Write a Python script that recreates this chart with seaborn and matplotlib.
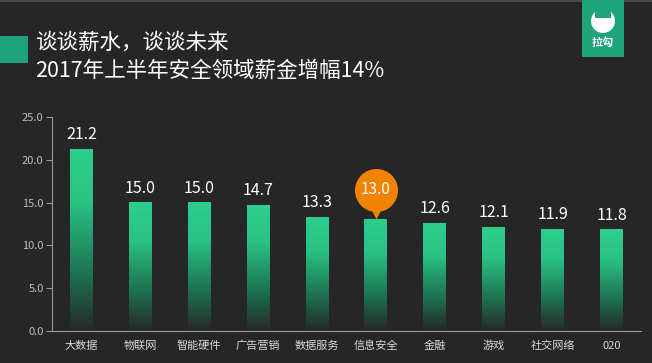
import numpy as np
import pandas as pd
import seaborn as sns
import matplotlib.pyplot as plt
from matplotlib.colors import LinearSegmentedColormap
from matplotlib.patches import Rectangle, Circle

CATEGORIES = ["大数据", "物联网", "智能硬件", "广告营销", "数据服务",
              "信息安全", "金融", "游戏", "社交网络", "020"]
VALUES = [21.2, 15.0, 15.0, 14.7, 13.3, 13.0, 12.6, 12.1, 11.9, 11.8]
Y_TICKS = [0, 5, 10, 15, 20, 25]
HIGHLIGHT = "信息安全"

BG = "#262626"
GREEN = "#2dcf8e"
LOGO = "#1fa37a"
ORANGE = "#f08300"
AXIS = "#9a9a9a"


def main() -> None:
    sns.set_theme(style="dark")
    plt.rcParams["font.family"] = ["Noto Sans CJK SC", "DejaVu Sans"]

    df = pd.DataFrame({"cat": CATEGORIES, "val": VALUES})

    fig = plt.figure(figsize=(6.52, 3.63), dpi=100, facecolor=BG)
    ax = fig.add_axes([52 / 652, 32 / 363, 589 / 652, 214 / 363])
    ax.set_facecolor(BG)

    sns.barplot(data=df, x="cat", y="val", color=GREEN, width=0.39,
                saturation=1, ax=ax)

    # vertical gradient inside each bar
    cmap = LinearSegmentedColormap.from_list(
        "fade", [(0.0, "#262927"), (0.3, "#1d6f4f"), (0.7, "#29c184"), (1.0, GREEN)])
    grad = np.linspace(0, 1, 256).reshape(-1, 1)
    for p in list(ax.patches):
        x0, w, h = p.get_x(), p.get_width(), p.get_height()
        p.set_visible(False)
        ax.imshow(grad, cmap=cmap, origin="lower", aspect="auto",
                  extent=(x0, x0 + w, 0, h), zorder=2)

    ax.set_xlim(-0.5, len(CATEGORIES) - 0.5)
    ax.set_ylim(0, 25)

    # value labels
    for i, (c, v) in enumerate(zip(CATEGORIES, VALUES)):
        if c == HIGHLIGHT:
            ax.plot(i, v + 1.15, marker="v", ms=13, color=ORANGE, mec="none", zorder=4)
            ax.plot(i, v + 3.5, marker="o", ms=31, color=ORANGE, mec="none", zorder=4)
            ax.text(i, v + 3.5, f"{v:.1f}", ha="center", va="center",
                    fontsize=11, color="white", zorder=5)
        else:
            ax.text(i, v + 1.7, f"{v:.1f}", ha="center", va="center",
                    fontsize=11.5, color="white", zorder=5)

    ax.set_yticks(Y_TICKS)
    ax.set_yticklabels([f"{t:.1f}" for t in Y_TICKS])
    ax.set_xticks(range(len(CATEGORIES)))
    ax.set_xticklabels(CATEGORIES)
    ax.set_xticks(np.arange(0.5, len(CATEGORIES), 1), minor=True)
    ax.tick_params(axis="x", which="major", length=0, pad=7,
                   labelsize=8, labelcolor="#d8d8d8")
    ax.tick_params(axis="x", which="minor", length=4, direction="out",
                   color=AXIS, width=0.8)
    ax.tick_params(axis="y", length=4, color=AXIS, width=0.8,
                   labelsize=8, labelcolor="#bdbdbd", pad=2, left=True)
    ax.set_xlabel("")
    ax.set_ylabel("")
    ax.grid(False)

    for s in ["top", "right"]:
        ax.spines[s].set_visible(False)
    for s in ["left", "bottom"]:
        ax.spines[s].set_visible(True)
        ax.spines[s].set_color(AXIS)
        ax.spines[s].set_linewidth(0.8)

    # header
    fig.add_artist(Rectangle((0, 1 - 63 / 363), 28 / 652, 27 / 363,
                             transform=fig.transFigure, color=LOGO, lw=0))
    fig.add_artist(Rectangle((0, 1 - 2 / 363), 1, 2 / 363,
                             transform=fig.transFigure, color="#4a4a4a", lw=0))
    fig.text(35 / 652, 1 - 43 / 363, "谈谈薪水，谈谈未来", fontsize=15.5,
             color="white", va="center", ha="left")
    fig.text(35 / 652, 1 - 71 / 363, "2017年上半年安全领域薪金增幅14%", fontsize=15.5,
             color="white", va="center", ha="left")

    # logo block
    logo_ax = fig.add_axes([582 / 652, 1 - 57 / 363, 42 / 652, 57 / 363], zorder=5)
    logo_ax.set_facecolor(LOGO)
    logo_ax.set_xlim(0, 42)
    logo_ax.set_ylim(0, 57)
    logo_ax.set_xticks([])
    logo_ax.set_yticks([])
    for s in logo_ax.spines.values():
        s.set_visible(False)
    logo_ax.add_patch(Circle((21, 36), 12, color="white", lw=0))
    logo_ax.add_patch(Rectangle((13, 39), 16, 10, color=LOGO, lw=0))
    logo_ax.text(21, 15, "拉勾", ha="center", va="center", fontsize=8,
                 color="white", fontweight="bold")

    fig.savefig("out.png", dpi=100, facecolor=BG)


if __name__ == "__main__":
    main()
